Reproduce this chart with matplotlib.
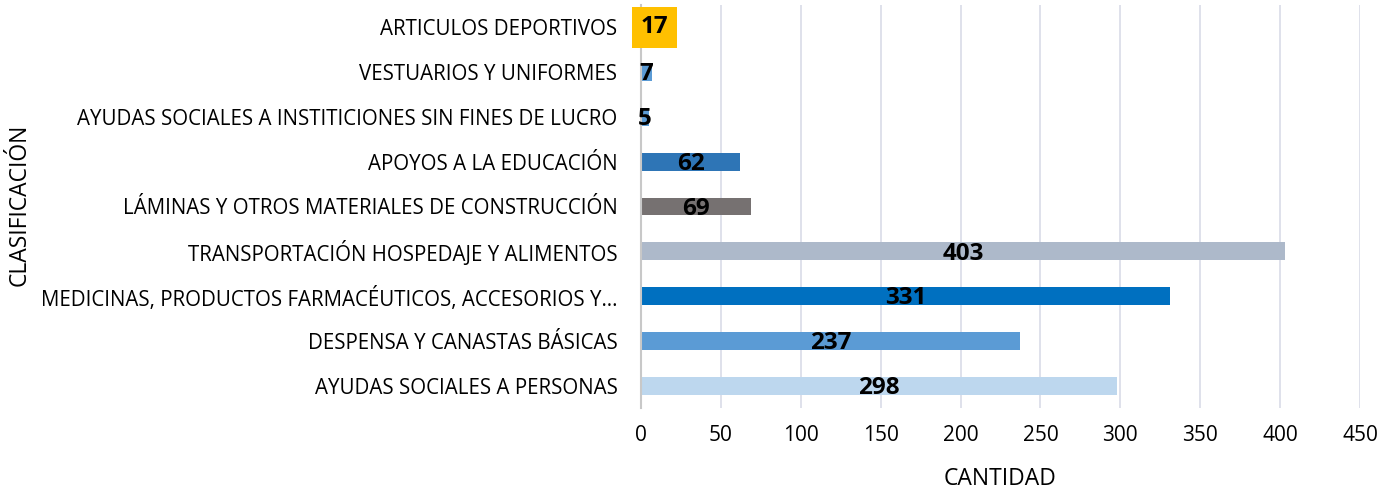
import matplotlib.pyplot as plt
import numpy as np

categorias = [
    "AYUDAS SOCIALES A PERSONAS",
    "DESPENSA Y CANASTAS BÁSICAS",
    "MEDICINAS, PRODUCTOS FARMACÉUTICOS, ACCESORIOS Y…",
    "TRANSPORTACIÓN HOSPEDAJE Y ALIMENTOS",
    "LÁMINAS Y OTROS MATERIALES DE CONSTRUCCIÓN",
    "APOYOS A LA EDUCACIÓN",
    "AYUDAS SOCIALES A INSTITICIONES SIN FINES DE LUCRO",
    "VESTUARIOS Y UNIFORMES",
    "ARTICULOS DEPORTIVOS",
]
cantidades = [298, 237, 331, 403, 69, 62, 5, 7, 17]
colores = ["#BDD7EE", "#5B9BD5", "#0070C0", "#ADB9CA", "#767171",
           "#2E75B6", "#5B9BD5", "#5B9BD5", "#FFC000"]
xticks = list(range(0, 451, 50))

plt.rcParams['font.family'] = ['Open Sans', 'DejaVu Sans']

fig = plt.figure(figsize=(13.97, 4.91), dpi=100)
ax = fig.add_axes([641/1397, 1 - 408/491, (1360-641)/1397, (408-5)/491])

y = np.arange(len(categorias))
ax.barh(y, cantidades, height=0.4, color=colores, zorder=3)

for i, v in enumerate(cantidades):
    if categorias[i] == "ARTICULOS DEPORTIVOS":
        ax.text(8.5, i, str(v), ha='center', va='center', fontsize=17.5,
                fontweight='bold', color='black', zorder=5,
                bbox=dict(boxstyle='square,pad=0.36', fc='#FFC000', ec='none'))
    else:
        ax.text(v / 2, i - 0.05, str(v), ha='center', va='center', fontsize=17.5,
                fontweight='bold', color='black', zorder=5)

ax.set_xlim(0, 450)
ax.set_ylim(-0.5, len(categorias) - 0.5)
ax.set_xticks(xticks)
ax.set_yticks(y)
ax.set_yticklabels(categorias, fontsize=14.8)
ax.tick_params(axis='x', labelsize=15, length=0, pad=12)
ax.tick_params(axis='y', length=0, pad=17)
ax.grid(axis='x', color='#D9DCE8', linewidth=1.2, zorder=0)
for s in ['top', 'right', 'bottom']:
    ax.spines[s].set_visible(False)
ax.spines['left'].set_color('#C8C8C8')
ax.spines['left'].set_linewidth(1.5)
ax.spines['left'].set_zorder(4)

fig.text(1000/1397, 1 - 479/491, "CANTIDAD", ha='center', va='center', fontsize=16.5)
fig.text(20/1397, 1 - 205/491, "CLASIFICACIÓN", rotation=90, ha='center',
         va='center', fontsize=16.5)

fig.savefig("out.png", dpi=100)
